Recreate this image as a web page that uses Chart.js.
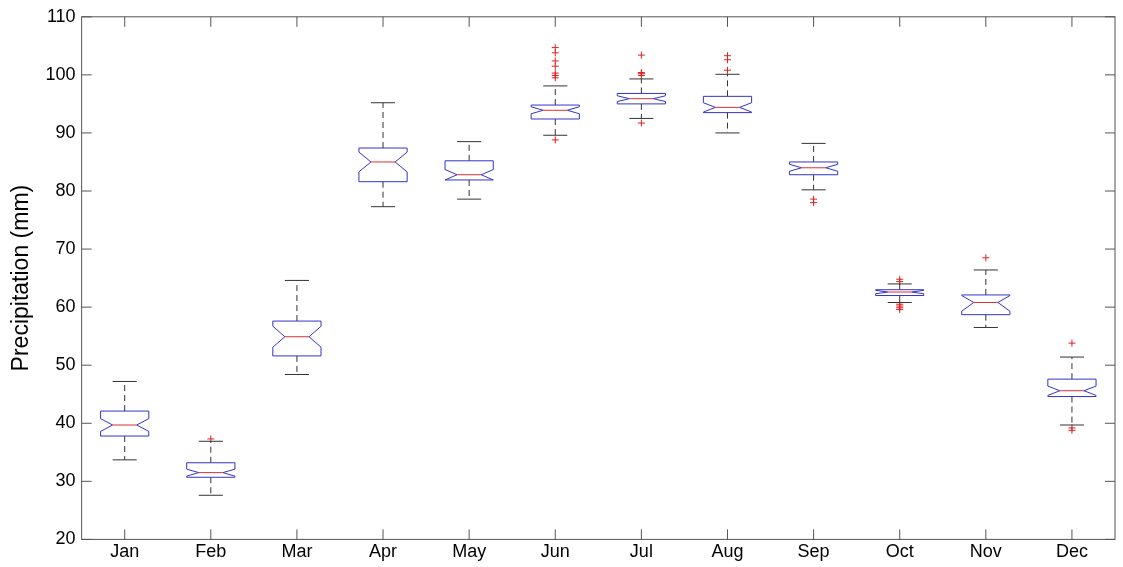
<!DOCTYPE html>
<html>
<head>
<meta charset="UTF-8">
<script src="https://cdn.jsdelivr.net/npm/chart.js"></script>
<style>body{margin:0;background:#fff}</style>
</head>
<body>
<canvas id="c" width="1123" height="567"></canvas>
<script>
const months = ['Jan','Feb','Mar','Apr','May','Jun','Jul','Aug','Sep','Oct','Nov','Dec'];
const whiskerLow  = [33.7, 27.6, 48.4, 77.3, 78.6, 89.6, 92.5, 90.0, 80.2, 60.8, 56.5, 39.7];
const whiskerHigh = [47.2, 36.9, 64.6, 95.2, 88.5, 98.1, 99.3, 100.1, 88.2, 64.0, 66.4, 51.4];
const q1          = [37.8, 30.7, 51.6, 81.6, 81.9, 92.4, 95.0, 93.5, 82.8, 62.0, 58.7, 44.6];
const q3          = [42.1, 33.2, 57.6, 87.4, 85.2, 94.8, 96.8, 96.3, 85.0, 63.0, 62.1, 47.6];
const medians     = [39.7, 31.5, 54.9, 85.0, 82.8, 93.9, 95.9, 94.4, 84.0, 62.6, 60.8, 45.6];
const notchLow    = [38.6, 30.9, 53.1, 83.3, 81.9, 93.3, 95.4, 93.6, 83.4, 62.3, 59.3, 44.8];
const notchHigh   = [40.8, 32.1, 56.7, 86.7, 83.7, 94.5, 96.4, 95.2, 84.6, 62.9, 62.0, 46.4];
const outliers = [
  [], [37.3], [], [], [],
  [88.8, 99.5, 99.9, 100.3, 101.5, 102.4, 103.8, 104.7],
  [91.7, 99.9, 100.2, 100.4, 103.4],
  [100.8, 102.6, 103.3],
  [78.0, 78.6],
  [59.6, 59.9, 60.2, 60.5, 64.4, 64.8],
  [68.5],
  [38.8, 39.2, 53.8]
];
const yTicks = [20, 30, 40, 50, 60, 70, 80, 90, 100, 110];

const outlierPoints = [];
outliers.forEach((list, i) => list.forEach(v => outlierPoints.push({x: i + 1, y: v})));

const boxPlugin = {
  id: 'boxes',
  afterDatasetsDraw(chart) {
    const ctx = chart.ctx, xs = chart.scales.x, ys = chart.scales.y;
    const a = chart.chartArea;
    const halfBox = (xs.getPixelForValue(1.28) - xs.getPixelForValue(1));
    const halfNotch = halfBox * 0.5;
    const halfCap = halfBox * 0.5;
    ctx.save();
    months.forEach((m, i) => {
      const cx = xs.getPixelForValue(i + 1);
      const y = v => ys.getPixelForValue(v);
      // whiskers
      ctx.strokeStyle = '#333';
      ctx.lineWidth = 1;
      ctx.setLineDash([6, 4]);
      ctx.beginPath();
      ctx.moveTo(cx, y(q3[i])); ctx.lineTo(cx, y(whiskerHigh[i]));
      ctx.moveTo(cx, y(q1[i])); ctx.lineTo(cx, y(whiskerLow[i]));
      ctx.stroke();
      ctx.setLineDash([]);
      ctx.beginPath();
      ctx.moveTo(cx - halfCap, y(whiskerHigh[i])); ctx.lineTo(cx + halfCap, y(whiskerHigh[i]));
      ctx.moveTo(cx - halfCap, y(whiskerLow[i])); ctx.lineTo(cx + halfCap, y(whiskerLow[i]));
      ctx.stroke();
      // notched box
      ctx.strokeStyle = '#3333cc';
      ctx.beginPath();
      ctx.moveTo(cx - halfBox, y(q1[i]));
      ctx.lineTo(cx - halfBox, y(notchLow[i]));
      ctx.lineTo(cx - halfNotch, y(medians[i]));
      ctx.lineTo(cx - halfBox, y(notchHigh[i]));
      ctx.lineTo(cx - halfBox, y(q3[i]));
      ctx.lineTo(cx + halfBox, y(q3[i]));
      ctx.lineTo(cx + halfBox, y(notchHigh[i]));
      ctx.lineTo(cx + halfNotch, y(medians[i]));
      ctx.lineTo(cx + halfBox, y(notchLow[i]));
      ctx.lineTo(cx + halfBox, y(q1[i]));
      ctx.closePath();
      ctx.stroke();
      // median
      ctx.strokeStyle = '#e03030';
      ctx.beginPath();
      ctx.moveTo(cx - halfNotch, y(medians[i])); ctx.lineTo(cx + halfNotch, y(medians[i]));
      ctx.stroke();
    });
    // frame and inward ticks
    ctx.strokeStyle = '#555';
    ctx.lineWidth = 1;
    ctx.strokeRect(a.left, a.top, a.right - a.left, a.bottom - a.top);
    ctx.beginPath();
    yTicks.forEach(t => {
      const py = ys.getPixelForValue(t);
      ctx.moveTo(a.left, py); ctx.lineTo(a.left + 10, py);
      ctx.moveTo(a.right, py); ctx.lineTo(a.right - 10, py);
    });
    months.forEach((m, i) => {
      const px = xs.getPixelForValue(i + 1);
      ctx.moveTo(px, a.bottom); ctx.lineTo(px, a.bottom - 10);
      ctx.moveTo(px, a.top); ctx.lineTo(px, a.top + 10);
    });
    ctx.stroke();
    ctx.restore();
  }
};

new Chart(document.getElementById('c'), {
  type: 'scatter',
  data: {
    datasets: [{
      data: outlierPoints,
      pointStyle: 'cross',
      radius: 3.5,
      borderColor: '#e02020',
      borderWidth: 1
    }]
  },
  options: {
    responsive: false,
    animation: false,
    layout: {padding: {top: 11, right: 8, bottom: 2, left: 8}},
    plugins: {legend: {display: false}, tooltip: {enabled: false}},
    scales: {
      x: {
        type: 'linear', min: 0.5, max: 12.5,
        afterBuildTicks: s => { s.ticks = months.map((m, i) => ({value: i + 1})); },
        ticks: {callback: v => months[v - 1], color: '#000', font: {family: 'Arial, Liberation Sans', size: 18}, padding: 2, maxRotation: 0},
        grid: {display: false, drawTicks: false},
        border: {display: false}
      },
      y: {
        min: 20, max: 110,
        afterBuildTicks: s => { s.ticks = yTicks.map(v => ({value: v})); },
        ticks: {color: '#000', font: {family: 'Arial, Liberation Sans', size: 18}, padding: 6},
        grid: {display: false, drawTicks: false},
        border: {display: false},
        title: {display: true, text: 'Precipitation (mm)', color: '#000', font: {family: 'Arial, Liberation Sans', size: 23}, padding: {top: 0, bottom: 4}}
      }
    }
  },
  plugins: [boxPlugin]
});
</script>
</body>
</html>
